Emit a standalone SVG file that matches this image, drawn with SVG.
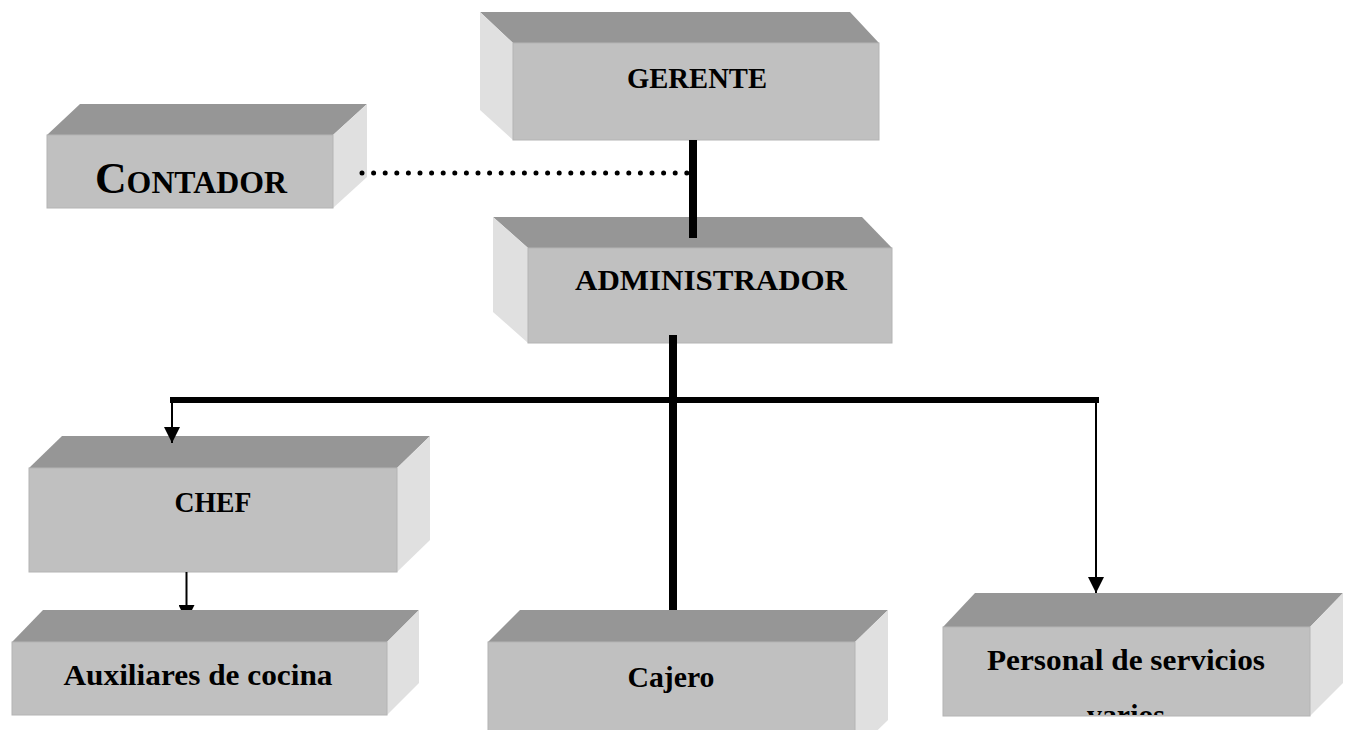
<svg xmlns="http://www.w3.org/2000/svg" width="1352" height="730" viewBox="0 0 1352 730">
<style>
.top{fill:#969696}
.front{fill:#c0c0c0;stroke:#b4b4b4;stroke-width:1}
.side{fill:#e0e0e0}
.lbl{font-family:"Liberation Serif","Times New Roman",serif;font-weight:bold;font-size:30px;fill:#000;text-anchor:middle}
.thick{stroke:#000;stroke-width:8;fill:none}
.bar{stroke:#000;stroke-width:6;fill:none}
.thin{stroke:#000;stroke-width:2;fill:none}
</style>
<defs>
<marker id="arr" markerUnits="userSpaceOnUse" markerWidth="16" markerHeight="16" refX="16" refY="8" orient="auto">
<path d="M0,0 L16,8 L0,16 Z" fill="#000"/>
</marker>
<clipPath id="clipPers"><rect x="943" y="627" width="367" height="88"/></clipPath>
</defs>
<rect width="1352" height="730" fill="#fff"/>

<g id="gerente">
<polygon class="top" points="480,12 850,12 879,43 513,43"/>
<polygon class="side" points="480,12 513,43 513,140 480,110"/>
<rect class="front" x="513" y="43" width="366" height="97"/>
<text class="lbl" x="697" y="88" textLength="140" lengthAdjust="spacingAndGlyphs">GERENTE</text>
</g>

<g id="contador">
<polygon class="top" points="80,104 367,104 333,135 47,135"/>
<polygon class="side" points="333,135 367,104 367,177 333,208"/>
<rect class="front" x="47" y="135" width="286" height="73"/>
<text class="lbl" x="191" y="193" textLength="192" lengthAdjust="spacingAndGlyphs"><tspan font-size="44">C</tspan><tspan font-size="32">ONTADOR</tspan></text>
</g>

<g id="administrador">
<polygon class="top" points="493,217 862,217 892,248 528,248"/>
<polygon class="side" points="493,217 528,248 528,343 493,312"/>
<rect class="front" x="528" y="248" width="364" height="95"/>
<text class="lbl" x="711" y="290" textLength="272" lengthAdjust="spacingAndGlyphs">ADMINISTRADOR</text>
</g>

<g id="chef">
<polygon class="top" points="62,436 430,436 397,468 29,468"/>
<polygon class="side" points="397,468 430,436 430,540 397,572"/>
<rect class="front" x="29" y="468" width="368" height="104"/>
<text class="lbl" x="213" y="512" textLength="77" lengthAdjust="spacingAndGlyphs">CHEF</text>
</g>

<g id="cajero">
<polygon class="top" points="520,610 888,610 855,642 488,642"/>
<polygon class="side" points="855,642 888,610 888,720 855,752"/>
<rect class="front" x="488" y="642" width="367" height="100"/>
<text class="lbl" x="671" y="687" textLength="87" lengthAdjust="spacingAndGlyphs">Cajero</text>
</g>

<g id="personal">
<polygon class="top" points="975,593 1343,593 1310,627 943,627"/>
<polygon class="side" points="1310,627 1343,593 1343,683 1310,716"/>
<rect class="front" x="943" y="627" width="367" height="89"/>
<g clip-path="url(#clipPers)">
<text class="lbl" x="1126" y="670" textLength="278" lengthAdjust="spacingAndGlyphs">Personal de servicios</text>
<text class="lbl" x="1126" y="725" textLength="78" lengthAdjust="spacingAndGlyphs">varios</text>
</g>
</g>

<g id="connectors">
<line class="thick" x1="693" y1="140" x2="693" y2="238"/>
<line class="thick" x1="673" y1="335" x2="673" y2="610"/>
<line class="bar" x1="170" y1="400" x2="1099" y2="400"/>
<line class="thin" x1="172" y1="400" x2="172" y2="443" marker-end="url(#arr)"/>
<line class="thin" x1="1096" y1="400" x2="1096" y2="593" marker-end="url(#arr)"/>
<line x1="362" y1="173" x2="688" y2="173" stroke="#000" stroke-width="5" stroke-linecap="round" stroke-dasharray="0 11.6"/>
<line class="thin" x1="186.5" y1="572" x2="186.5" y2="621" marker-end="url(#arr)"/>
</g>

<g id="auxiliares">
<polygon class="top" points="43,610 419,610 387,642 12,642"/>
<polygon class="side" points="387,642 419,610 419,683 387,715"/>
<rect class="front" x="12" y="642" width="375" height="73"/>
<text class="lbl" x="198" y="685" textLength="269" lengthAdjust="spacingAndGlyphs">Auxiliares de cocina</text>
</g>
</svg>
